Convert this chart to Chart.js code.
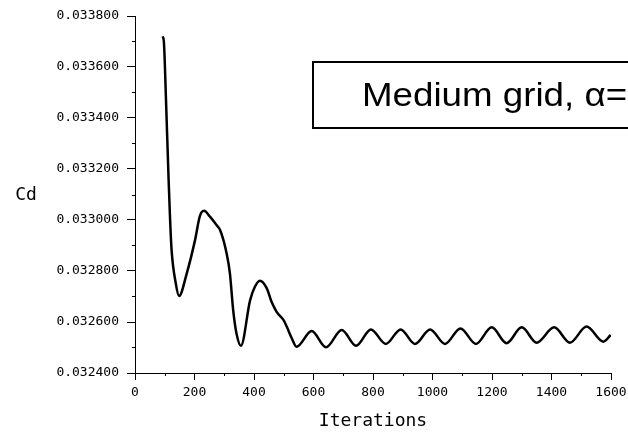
<!DOCTYPE html>
<html>
<head>
<meta charset="utf-8">
<script src="https://cdn.jsdelivr.net/npm/chart.js@4/dist/chart.umd.min.js"></script>
<style>
  html, body { margin: 0; padding: 0; background: #fff; }
  #wrap { width: 628px; height: 432px; }
</style>
</head>
<body>
<div id="wrap"><canvas id="cd-chart" width="628" height="432"></canvas></div>
<script>
// values (drag coefficient vs iterations)
const iterations = [93, 97, 104, 113, 118, 123, 137, 148, 174, 202, 218, 232, 252, 274, 286, 308,
  319, 330, 341, 356, 387, 403, 420, 443, 459, 476, 499, 510, 527, 543, 594, 642, 695, 743,
  793, 843, 893, 941, 992, 1042, 1094, 1146, 1199, 1249, 1300, 1350, 1409, 1462, 1518, 1574, 1599];
const cdValues = [0.033720, 0.033700, 0.033478, 0.033157, 0.033000, 0.032882, 0.032752, 0.032702,
  0.032791, 0.032922, 0.033015, 0.033036, 0.033013, 0.032980, 0.032961, 0.032869, 0.032791,
  0.032647, 0.032556, 0.032507, 0.032686, 0.032738, 0.032762, 0.032732, 0.032679, 0.032640,
  0.032608, 0.032582, 0.032536, 0.032503, 0.032565, 0.032501, 0.032569, 0.032507, 0.032571,
  0.032514, 0.032571, 0.032514, 0.032571, 0.032514, 0.032575, 0.032514, 0.032579, 0.032517,
  0.032579, 0.032519, 0.032579, 0.032519, 0.032582, 0.032523, 0.032549];

// axis ticks
const xTicks = [0, 200, 400, 600, 800, 1000, 1200, 1400, 1600];
const xMinorTicks = [100, 300, 500, 700, 900, 1100, 1300, 1500];
const yTicks = [0.0324, 0.0326, 0.0328, 0.0330, 0.0332, 0.0334, 0.0336, 0.0338];
const yMinorTicks = [0.0325, 0.0327, 0.0329, 0.0331, 0.0333, 0.0335, 0.0337];

const boxLabel = "Medium grid, \u03b1=";

const tickFont = { family: "DejaVu Sans Mono", size: 13 };


// minor ticks, "Cd" label and the text box
const extrasPlugin = {
  id: "extras",
  afterDraw(chart) {
    const ctx = chart.ctx;
    const xs = chart.scales.x, ys = chart.scales.y;
    const area = chart.chartArea;

    ctx.save();
    ctx.strokeStyle = "#000";
    ctx.lineWidth = 1;
    xMinorTicks.forEach(v => {
      const px = Math.round(xs.getPixelForValue(v)) + 0.5;
      ctx.beginPath();
      ctx.moveTo(px, area.bottom);
      ctx.lineTo(px, area.bottom + 3);
      ctx.stroke();
    });
    yMinorTicks.forEach(v => {
      const py = Math.round(ys.getPixelForValue(v)) + 0.5;
      ctx.beginPath();
      ctx.moveTo(area.left - 3, py);
      ctx.lineTo(area.left, py);
      ctx.stroke();
    });

    // y title, not rotated
    ctx.fillStyle = "#000";
    ctx.font = "18px 'DejaVu Sans Mono'";
    ctx.textAlign = "center";
    ctx.textBaseline = "middle";
    ctx.fillText("Cd", 26, 195);

    // annotation box, runs off the right edge
    ctx.fillStyle = "#fff";
    ctx.fillRect(313, 62, 330, 66);
    ctx.lineWidth = 2;
    ctx.strokeRect(313, 62, 330, 66);
    ctx.fillStyle = "#000";
    ctx.font = "34px 'Liberation Sans'";
    ctx.textAlign = "left";
    ctx.textBaseline = "alphabetic";
    ctx.translate(362, 106);
    ctx.scale(1.08, 1);  // the original lettering is a bit wider
    ctx.fillText(boxLabel, 0, 0);
    ctx.restore();
  }
};


new Chart(document.getElementById("cd-chart"), {
  type: "line",
  data: {
    datasets: [{
      data: iterations.map((x, i) => ({ x: x, y: cdValues[i] })),
      borderColor: "#000",
      borderWidth: 2.5,
      pointRadius: 0,
      fill: false,
      cubicInterpolationMode: "monotone"
    }]
  },
  options: {
    responsive: false,
    animation: false,
    layout: { padding: { left: 0, top: 16, right: 17, bottom: 0 } },
    plugins: { legend: { display: false }, tooltip: { enabled: false } },
    scales: {
      x: {
        type: "linear",
        min: 0, max: 1600,
        afterBuildTicks: s => { s.ticks = xTicks.map(v => ({ value: v })); },
        afterFit: s => { s.height = 59; s.paddingLeft = 0; s.paddingRight = 0; },
        grid: { drawOnChartArea: false, tickLength: 7, color: "#000", tickColor: "#000" },
        border: { display: true, color: "#000", width: 1 },
        ticks: {
          color: "#000", font: tickFont, padding: 5, maxRotation: 0, autoSkip: false,
          callback: v => String(v)
        },
        title: {
          display: true, text: "Iterations", color: "#000",
          font: { family: "DejaVu Sans Mono", size: 18 },
          padding: { top: 0, bottom: 0 }
        }
      },
      y: {
        min: 0.0324, max: 0.0338,
        afterBuildTicks: s => { s.ticks = yTicks.map(v => ({ value: v })); },
        afterFit: s => { s.width = 135; },
        grid: { drawOnChartArea: false, tickLength: 8, color: "#000", tickColor: "#000" },
        border: { display: true, color: "#000", width: 1 },
        ticks: {
          color: "#000", font: tickFont, padding: 8, autoSkip: false,
          callback: v => v.toFixed(6)
        }
      }
    }
  },
  plugins: [extrasPlugin]
});
</script>
</body>
</html>
